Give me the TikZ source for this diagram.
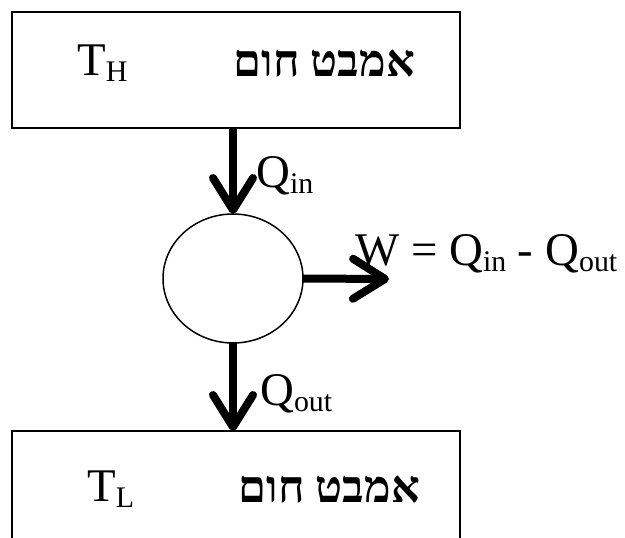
\documentclass[tikz,border=0pt]{standalone}
\usepackage{fontspec}
\setmainfont{Liberation Serif}
\newfontfamily\hebfont[Script=Hebrew]{Liberation Serif}
\TeXXeTstate=1
\usetikzlibrary{arrows.meta,shapes.geometric}
\newcommand\sbs[1]{\raisebox{-6bp}{\fontsize{30}{30}\selectfont #1}}
\begin{document}
\begin{tikzpicture}[x=1bp,y=-1bp,
  box/.style={draw, line width=2bp, rectangle, minimum width=448bp, minimum height=116bp, outer sep=0pt, inner sep=0pt},
  engine/.style={draw, line width=1.5bp, ellipse, minimum width=140bp, minimum height=129bp, outer sep=0pt, inner sep=0pt},
  lbl/.style={inner sep=0pt, font=\fontsize{47}{50}\selectfont},
  heb/.style={inner sep=0pt, font=\fontsize{45}{50}\selectfont\hebfont\bfseries},
  flow/.style={line width=8bp, -{Straight Barb[length=32bp, width=40bp, line cap=round, line join=round]}}
]
\clip (0,0) rectangle (625,538);
\fill[white] (0,0) rectangle (625,538);
\node[box] (hot) at (236,70) {};
\node[box] (cold) at (236,489) {};
\node[engine] (eng) at (233,278.5) {};
\coordinate (w) at (389,279);
\node[lbl, anchor=base west] (th) at (77,76) {T\sbs{H}};
\node[heb, anchor=base east] (hh) at (415,77) {\beginR אמבט חום\endR};
\node[lbl, anchor=base west] (tl) at (87,501) {T\sbs{L}};
\node[heb, anchor=base east] (hc) at (420,502) {\beginR אמבט חום\endR};
\draw[flow] (hot.south -| eng.north) -- (eng.north);
\draw[flow] (eng.south) -- (eng.south |- cold.north);
\draw[flow] (eng.east) -- (w);
\node[lbl, anchor=base west] (qin) at (256,188) {Q\sbs{in}};
\node[lbl, anchor=base west] (qout) at (260,405) {Q\sbs{out}};
\node[lbl, anchor=base west] (weq) at (355,265) {W = Q\sbs{in} - Q\sbs{out}};
\end{tikzpicture}
\end{document}
